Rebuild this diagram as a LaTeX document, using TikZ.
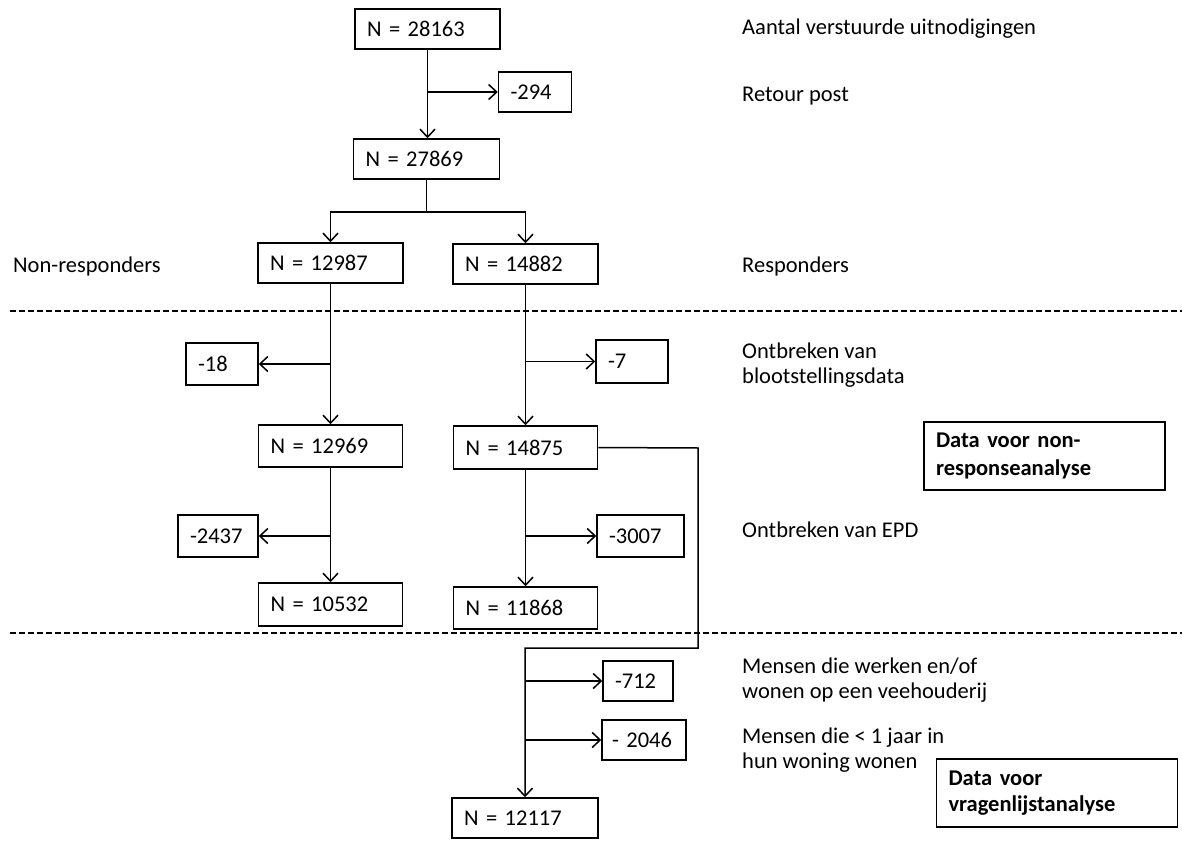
\documentclass[tikz,border=0pt]{standalone}
\usepackage{fontspec}
\setmainfont{Carlito}
\usetikzlibrary{arrows.meta}
\begin{document}
\begin{tikzpicture}[x=1pt,y=-1pt,
  font=\fontsize{22.5}{25}\selectfont,
  bx/.style={draw, line width=1.5pt, inner xsep=12pt, inner ysep=0pt, align=left, minimum height=40pt},
  lbl/.style={anchor=west, inner sep=0pt, align=left},
  arr/.style={line width=1.5pt, -{Straight Barb[length=8pt,width=15pt,line width=1.5pt]}},
  ln/.style={line width=1.5pt},
  sep/.style={line width=1.5pt, dash pattern=on 6pt off 3pt}]
\useasboundingbox (0,0) rectangle (1182,845);
% boxes
\node[bx, text width=121pt] (n1) at (427.5,29) {N = 28163};
\node[bx, text width=49pt] (m294) at (535,92) {-294};
\node[bx, text width=122pt] (n2) at (426.5,159) {N = 27869};
\node[bx, text width=121pt] (nr) at (330.5,263) {N = 12987};
\node[bx, text width=121pt] (rs) at (525.5,264) {N = 14882};
\node[bx, text width=48pt, minimum height=42pt] (m18) at (222,364) {-18};
\node[bx, text width=48pt, minimum height=43pt] (m7) at (632,361.5) {-7};
\node[bx, text width=120pt, minimum height=42pt] (l1) at (330.5,446) {N = 12969};
\node[bx, text width=120pt, minimum height=43pt] (r1) at (525.5,447.5) {N = 14875};
\node[bx, text width=56pt, minimum height=42pt] (m2437) at (218,536) {-2437};
\node[bx, text width=63pt, minimum height=42pt] (m3007) at (640.5,536) {-3007};
\node[bx, text width=120pt, minimum height=43pt] (l2) at (330.5,604.5) {N = 10532};
\node[bx, text width=120pt, minimum height=42pt] (r2) at (525.5,608) {N = 11868};
\node[bx, text width=46pt] (m712) at (638,681) {-712};
\node[bx, text width=64pt, inner xsep=10pt] (m2046) at (644,740) {\mbox{- 2046}};
\node[bx, text width=122pt] (fin) at (525,818) {N = 12117};
\node[bx, text width=217pt, minimum height=68pt, font=\fontsize{22.5}{28}\selectfont\bfseries] (d1) at (1044.5,456) {Data voor non-\\responseanalyse};
\node[bx, text width=217pt, minimum height=68pt, font=\fontsize{22.5}{26}\selectfont\bfseries] (d2) at (1057,793) {Data voor\\vragenlijstanalyse};
% labels
\node[lbl] (t1) at (742,29) {Aantal verstuurde uitnodigingen};
\node[lbl] (t2) at (742,96) {Retour post};
\node[lbl] (t3) at (13,266) {Non-responders};
\node[lbl] (t4) at (742,266) {Responders};
\node[lbl] (t5) at (742,365.5) {Ontbreken van\\blootstellingsdata};
\node[lbl] (t6) at (742,530) {Ontbreken van EPD};
\node[lbl] (t7) at (742,680.5) {Mensen die werken en/of\\wonen op een veehouderij};
\node[lbl] (t8) at (742,750.5) {Mensen die < 1 jaar in\\hun woning wonen};
% separators
\coordinate (s1a) at (10,311); \coordinate (s1b) at (1182,311);
\coordinate (s2a) at (10,633); \coordinate (s2b) at (1182,633);
\draw[sep] (s1a) -- (s1b);
\draw[sep] (s2a) -- (s2b);
% connectors
\draw[arr] (n1.south) -- (n1.south |- n2.north);
\draw[arr] (n1.south |- m294.west) -- (m294.west);
\coordinate (split) at (426.5,212);
\draw[ln] (n2.south) -- (split);
\draw[arr] (split) -| (nr.north);
\draw[arr] (split) -| (rs.north);
\draw[arr] (nr.south) -- (l1.north);
\draw[arr] (nr.south |- m18.east) -- (m18.east);
\draw[arr] (rs.south) -- (r1.north);
\draw[arr] (rs.south |- m7.west) -- (m7.west);
\draw[arr] (l1.south) -- (l2.north);
\draw[arr] (l1.south |- m2437.east) -- (m2437.east);
\draw[arr] (r1.south) -- (r2.north);
\draw[arr] (r1.south |- m3007.west) -- (m3007.west);
\coordinate (c1) at (698,448);
\coordinate (c2) at (698,648);
\draw[arr] (r1.east) -- (c1) -- (c2) -| (fin.north);
\draw[arr] (fin.north |- m712.west) -- (m712.west);
\draw[arr] (fin.north |- m2046.west) -- (m2046.west);
\end{tikzpicture}
\end{document}
